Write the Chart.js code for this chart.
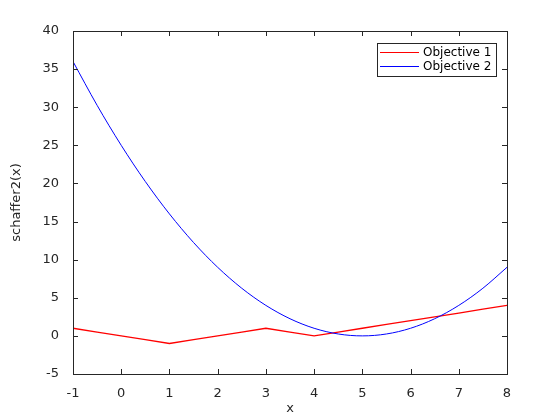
<!DOCTYPE html>
<html>
<head>
<meta charset="utf-8">
<script src="https://cdn.jsdelivr.net/npm/chart.js@4/dist/chart.umd.min.js"></script>
<style>
  html, body { margin: 0; padding: 0; background: #fff; }
  #wrap { width: 560px; height: 420px; }
</style>
</head>
<body>
<div id="wrap"><canvas id="chart" width="560" height="420"></canvas></div>
<script>
const xs = [-1, -0.5, 0, 0.5, 1, 1.5, 2, 2.5, 3, 3.5, 4, 4.5, 5, 5.5, 6, 6.5, 7, 7.5, 8]
const objective1 = [1, 0.5, 0, -0.5, -1, -0.5, 0, 0.5, 1, 0.5, 0, 0.5, 1, 1.5, 2, 2.5, 3, 3.5, 4]
const objective2 = [36, 30.25, 25, 20.25, 16, 12.25, 9, 6.25, 4, 2.25, 1, 0.25, 0, 0.25, 1, 2.25, 4, 6.25, 9]
const xTicks = [-1, 0, 1, 2, 3, 4, 5, 6, 7, 8]
const yTicks = [-5, 0, 5, 10, 15, 20, 25, 30, 35, 40]
const seriesNames = ['Objective 1', 'Objective 2']
const seriesColors = ['#ff0000', '#0000ff']

const axisColor = '#262626'
const font = 'DejaVu Sans'

function points(ys) {
  return xs.map((x, i) => ({ x: x, y: ys[i] }))
}

// MATLAB style box with inward ticks on all four sides, plus legend
const boxPlugin = {
  id: 'box',
  afterDatasetsDraw(chart) {
    const { ctx, chartArea: a, scales } = chart
    ctx.save()
    ctx.strokeStyle = axisColor
    ctx.lineWidth = 1
    ctx.strokeRect(Math.round(a.left) + 0.5, Math.round(a.top) + 0.5,
      Math.round(a.right - a.left), Math.round(a.bottom - a.top))
    ctx.beginPath()
    xTicks.forEach(v => {
      const px = Math.round(scales.x.getPixelForValue(v)) + 0.5
      ctx.moveTo(px, a.bottom); ctx.lineTo(px, a.bottom - 5)
      ctx.moveTo(px, a.top); ctx.lineTo(px, a.top + 5)
    })
    yTicks.forEach(v => {
      const py = Math.round(scales.y.getPixelForValue(v)) + 0.5
      ctx.moveTo(a.left, py); ctx.lineTo(a.left + 5, py)
      ctx.moveTo(a.right, py); ctx.lineTo(a.right - 5, py)
    })
    ctx.stroke()

    // legend
    const lx = 377, ly = 43, lw = 119, lh = 33
    ctx.fillStyle = '#fff'
    ctx.fillRect(lx, ly, lw, lh)
    ctx.strokeStyle = '#262626'
    ctx.strokeRect(lx + 0.5, ly + 0.5, lw, lh)
    ctx.font = '12px ' + font
    ctx.textBaseline = 'middle'
    seriesNames.forEach((name, i) => {
      const y = Math.round(ly + 9 + i * 14) + 0.5
      ctx.strokeStyle = seriesColors[i]
      ctx.beginPath()
      ctx.moveTo(lx + 3, y)
      ctx.lineTo(lx + 42, y)
      ctx.stroke()
      ctx.fillStyle = '#000'
      ctx.fillText(name, lx + 46, y)
    })
    ctx.restore()
  }
}

new Chart(document.getElementById('chart'), {
  type: 'scatter',
  data: {
    datasets: [
      {
        label: seriesNames[0],
        data: points(objective1),
        showLine: true,
        borderColor: seriesColors[0],
        borderWidth: 1.3,
        pointRadius: 0,
        order: 1
      },
      {
        label: seriesNames[1],
        data: points(objective2),
        showLine: true,
        borderColor: seriesColors[1],
        borderWidth: 1,
        pointRadius: 0,
        cubicInterpolationMode: 'monotone',
        order: 0
      }
    ]
  },
  options: {
    responsive: false,
    animation: false,
    layout: { padding: { left: 0, top: 31, right: 53, bottom: 0 } },
    plugins: {
      legend: { display: false },
      tooltip: { enabled: false }
    },
    scales: {
      x: {
        type: 'linear',
        min: -1,
        max: 8,
        afterFit(scale) { scale.height = 46 },
        afterBuildTicks(scale) { scale.ticks = xTicks.map(v => ({ value: v })) },
        grid: { display: false },
        border: { display: false },
        ticks: { color: axisColor, font: { family: font, size: 13 }, padding: 4, maxRotation: 0 },
        title: { display: true, text: 'x', color: axisColor, font: { family: font, size: 13 }, padding: { top: 0, bottom: 4 } }
      },
      y: {
        min: -5,
        max: 40,
        afterFit(scale) { scale.width = 73 },
        afterBuildTicks(scale) { scale.ticks = yTicks.map(v => ({ value: v })) },
        grid: { display: false },
        border: { display: false },
        ticks: { color: axisColor, font: { family: font, size: 13 }, padding: 6 },
        title: { display: true, text: 'schaffer2(x)', color: axisColor, font: { family: font, size: 13 }, padding: { top: 9, bottom: 0 } }
      }
    }
  },
  plugins: [boxPlugin]
})
</script>
</body>
</html>
